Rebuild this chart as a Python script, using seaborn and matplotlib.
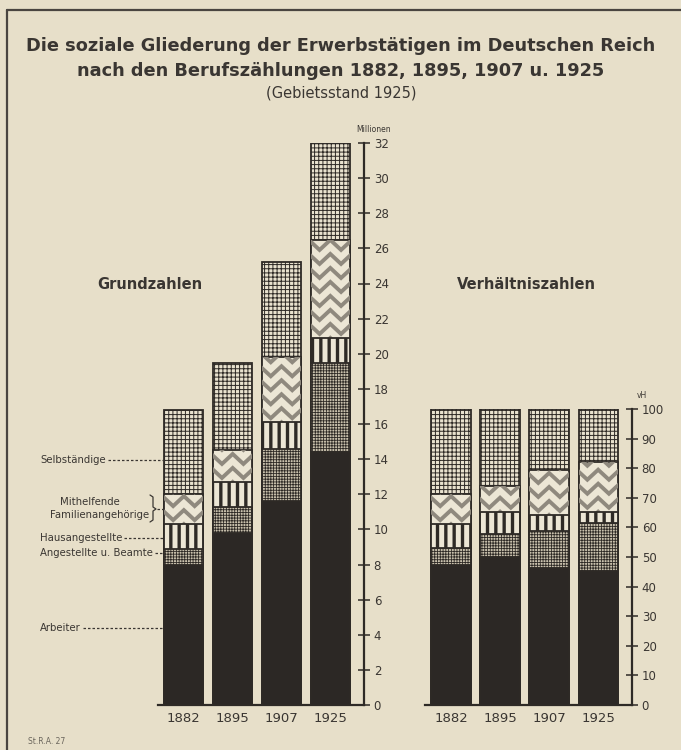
import numpy as np
import pandas as pd
import matplotlib.pyplot as plt
import seaborn as sns
from matplotlib.lines import Line2D

sns.set_style('white')
plt.rcParams['font.family'] = ['DejaVu Sans']

years = ['1882', '1895', '1907', '1925']
layers = ['Arbeiter', 'Angestellte', 'Hausangestellte', 'Mithelfende', 'Selbständige']

# Grundzahlen (Millionen)
arbeiter = [8.0, 9.8, 11.6, 14.4]
angestellte = [0.9, 1.5, 3.0, 5.1]
hausangestellte = [1.4, 1.4, 1.5, 1.4]
mithelfende = [1.7, 1.8, 3.7, 5.6]
selbstaendige = [4.8, 5.0, 5.4, 5.5]

# Verhältniszahlen (vH)
arbeiter_vh = [47.3, 50.1, 46.3, 45.4]
angestellte_vh = [5.7, 7.7, 12.4, 16.0]
hausangestellte_vh = [8.1, 7.5, 5.5, 3.9]
mithelfende_vh = [10.2, 8.7, 15.2, 16.9]
selbstaendige_vh = [28.7, 26.0, 20.6, 17.8]

grund = pd.DataFrame({'Jahr': years, 'Arbeiter': arbeiter, 'Angestellte': angestellte,
                      'Hausangestellte': hausangestellte, 'Mithelfende': mithelfende,
                      'Selbständige': selbstaendige})
verh = pd.DataFrame({'Jahr': years, 'Arbeiter': arbeiter_vh, 'Angestellte': angestellte_vh,
                     'Hausangestellte': hausangestellte_vh, 'Mithelfende': mithelfende_vh,
                     'Selbständige': selbstaendige_vh})

BG = '#e7dfc9'
INK = '#2e2a26'
TXT = '#3a3632'

# face colour, hatch, hatch linewidth
styles = {
    'Selbständige': ('#e9e2cf', '++++', 0.7),
    'Mithelfende': ('#ece6d5', '', 0.0),
    'Hausangestellte': ('#ece6d5', '||', 2.4),
    'Angestellte': ('#c9c1ad', '++++++', 0.6),
    'Arbeiter': ('#2c2825', '', 0.0),
}

W, H = 681, 750
fig = plt.figure(figsize=(W / 100, H / 100), dpi=100, facecolor=BG)


def px_axes(x0, x1, ytop, ybot):
    return fig.add_axes([x0 / W, 1 - ybot / H, (x1 - x0) / W, (ybot - ytop) / H])


def zigzag(ax, patch, lo, hi, ppuy):
    x0 = patch.get_x()
    w = patch.get_width()
    amp = 10 / ppuy
    step = 14 / ppuy
    xs = x0 + np.linspace(-0.05, 1.05, 5) * w
    y = lo - amp
    while y < hi + amp:
        ys = y + np.array([amp, 0, amp, 0, amp])
        ln = Line2D(xs, ys, color='#8f897e', lw=2.8, solid_joinstyle='miter',
                    zorder=patch.get_zorder() + 0.05)
        ax.add_line(ln)
        ln.set_clip_path(patch)
        y += step


def stacked(ax, df, ymax, ytick):
    cum = df[layers].cumsum(axis=1)
    bb = ax.get_window_extent()
    for i, lay in enumerate(reversed(layers)):
        face, hatch, hlw = styles[lay]
        n_before = len(ax.patches)
        with plt.rc_context({'hatch.linewidth': hlw if hlw else 0.5}):
            sns.barplot(x=df['Jahr'], y=cum[lay], color=face, saturation=1,
                        edgecolor=INK, linewidth=1.3, hatch=hatch or None,
                        width=0.8, errorbar=None, zorder=2 + i * 0.2, ax=ax)
        if lay == 'Mithelfende':
            idx = layers.index(lay)
            lower = cum[layers[idx - 1]].values
            upper = cum[lay].values
            ppuy = bb.height / ymax
            for k, p in enumerate(ax.patches[n_before:]):
                zigzag(ax, p, lower[k], upper[k], ppuy)
    ax.set_xlim(-0.53, 3.69)
    ax.set_ylim(0, ymax)
    ax.set_xlabel('')
    ax.set_ylabel('')
    ax.set_facecolor('none')
    for s in ['left', 'top']:
        ax.spines[s].set_visible(False)
    for s in ['right', 'bottom']:
        ax.spines[s].set_color(INK)
        ax.spines[s].set_linewidth(1.6)
    ax.yaxis.tick_right()
    ax.set_yticks(np.arange(0, ymax + 0.1, ytick))
    ax.tick_params(axis='y', direction='inout', length=8, width=1.1, color=INK,
                   labelsize=8.5, labelcolor=TXT, pad=3)
    ax.tick_params(axis='x', length=0, labelsize=9.5, labelcolor=TXT, pad=5)


ax1 = px_axes(158, 364, 143, 705)
stacked(ax1, grund, 32, 2)
ax2 = px_axes(425, 632, 409, 705)
stacked(ax2, verh, 100, 10)


def fx(x):
    return x / W


def fy(y):
    return 1 - y / H


# frame
fig.add_artist(Line2D([fx(7), fx(7)], [fy(10), fy(750)], color='#4a4540', lw=1.6))
fig.add_artist(Line2D([fx(7), fx(681)], [fy(10), fy(10)], color='#4a4540', lw=1.6))

# titles
fig.text(fx(341), fy(46), 'Die soziale Gliederung der Erwerbstätigen im Deutschen Reich',
         ha='center', va='center', fontsize=12.8, fontweight='bold', color=TXT)
fig.text(fx(341), fy(71), 'nach den Berufszählungen 1882, 1895, 1907 u. 1925',
         ha='center', va='center', fontsize=12.8, fontweight='bold', color=TXT)
fig.text(fx(341), fy(93), '(Gebietsstand 1925)', ha='center', va='center',
         fontsize=10.5, color=TXT)
fig.text(fx(150), fy(284), 'Grundzahlen', ha='center', va='center', fontsize=10.5,
         fontweight='bold', color=TXT)
fig.text(fx(526), fy(284), 'Verhältniszahlen', ha='center', va='center', fontsize=10.5,
         fontweight='bold', color=TXT)
fig.text(fx(374), fy(129), 'Millionen', ha='center', va='center', fontsize=5.5, color=TXT)
fig.text(fx(642), fy(396), 'vH', ha='center', va='center', fontsize=5.5, color=TXT)
fig.text(fx(28), fy(741), 'St.R.A. 27', ha='left', va='center', fontsize=5.5, color='#6a655c')

# left side labels with leaders
fig.canvas.draw()
rend = fig.canvas.get_renderer()
dash = dict(color=TXT, lw=0.9, ls=(0, (2, 1.6)))
labels = [('Selbständige', 40, 460), ('Hausangestellte', 40, 538),
          ('Angestellte u. Beamte', 40, 553), ('Arbeiter', 40, 628)]
for txt, x, y in labels:
    t = fig.text(fx(x), fy(y), txt, ha='left', va='center', fontsize=7.3, color=TXT)
    x1 = t.get_window_extent(rend).x1 + 2
    fig.add_artist(Line2D([x1 / W, fx(164)], [fy(y), fy(y)], **dash))
fig.text(fx(90), fy(502), 'Mithelfende', ha='center', va='center', fontsize=7.3, color=TXT)
fig.text(fx(149), fy(515), 'Familienangehörige', ha='right', va='center', fontsize=7.3,
         color=TXT)
bx = [150, 153, 153, 156, 153, 153, 150]
by = [495, 497, 507, 509, 511, 520, 522]
fig.add_artist(Line2D([fx(v) for v in bx], [fy(v) for v in by], color=TXT, lw=0.9))
fig.add_artist(Line2D([fx(157), fx(164)], [fy(509), fy(509)], **dash))

fig.savefig('out.png', dpi=100, facecolor=BG)
